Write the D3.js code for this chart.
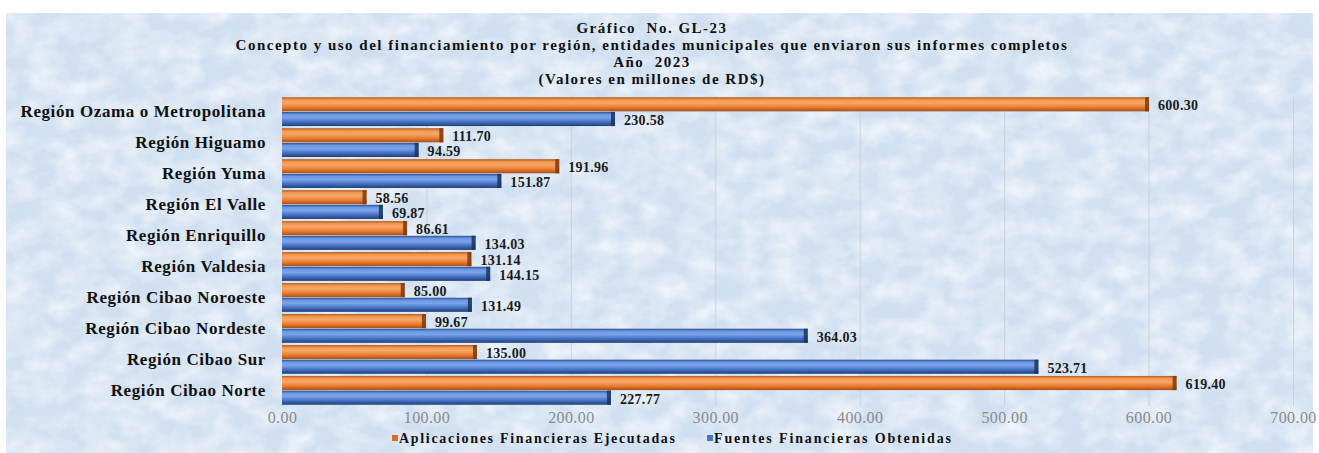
<!DOCTYPE html>
<html>
<head>
<meta charset="utf-8">
<script src="https://cdn.jsdelivr.net/npm/d3@7"></script>
<style>
  body { margin: 0; background: #ffffff; }
  svg { display: block; }
</style>
</head>
<body>
<div id="chart"></div>
<script>
var regions = [
  'Región Ozama o Metropolitana',
  'Región Higuamo',
  'Región Yuma',
  'Región El Valle',
  'Región Enriquillo',
  'Región Valdesia',
  'Región Cibao Noroeste',
  'Región Cibao Nordeste',
  'Región Cibao Sur',
  'Región Cibao Norte'
];
var aplicaciones = [600.30, 111.70, 191.96, 58.56, 86.61, 131.14, 85.00, 99.67, 135.00, 619.40];
var fuentes = [230.58, 94.59, 151.87, 69.87, 134.03, 144.15, 131.49, 364.03, 523.71, 227.77];
var series_names = ['Aplicaciones Financieras Ejecutadas', 'Fuentes Financieras Obtenidas'];
var x_ticks = [0, 100, 200, 300, 400, 500, 600, 700];
var title_lines = [
  'Gráfico  No. GL-23',
  'Concepto y uso del financiamiento por región, entidades municipales que enviaron sus informes completos',
  'Año  2023',
  '(Valores en millones de RD$)'
];

var chart_width = 1319;
var chart_height = 453;
var plot = { left: 282, right: 1293, top: 96, bottom: 406 };
var serif = '"Liberation Serif", "Times New Roman", serif';

var svg = d3.select('#chart')
      .append('svg')
      .attr('width', chart_width)
      .attr('height', chart_height);

var defs = svg.append('defs');

// paper texture for the background
var tex = defs.append('filter')
   .attr('id', 'paper')
   .attr('x', 0).attr('y', 0).attr('width', 1).attr('height', 1);
tex.append('feTurbulence')
   .attr('type', 'fractalNoise')
   .attr('baseFrequency', '0.035 0.05')
   .attr('numOctaves', 4)
   .attr('seed', 7);
tex.append('feColorMatrix')
   .attr('values', '0 0 0 0 1  0 0 0 0 1  0 0 0 0 1  0 0 0 -1.6 1.05');

// bar gradients (cylinder look)
function make_gradient(id, stops) {
  var g = defs.append('linearGradient')
    .attr('id', id)
    .attr('x1', 0).attr('y1', 0).attr('x2', 0).attr('y2', 1);
  stops.forEach(function(s) {
    g.append('stop').attr('offset', s[0]).attr('stop-color', s[1]);
  });
}
make_gradient('grad-orange', [[0, '#b5591b'], [0.18, '#f0974f'], [0.4, '#f7a867'], [0.7, '#ed7d31'], [1, '#a4511a']]);
make_gradient('grad-blue', [[0, '#2d4f8e'], [0.18, '#6b98e3'], [0.4, '#7aa4ea'], [0.7, '#4472c4'], [1, '#233f73']]);

var colors = ['url(#grad-orange)', 'url(#grad-blue)'];
var cap_colors = ['#7a3a0f', '#1c325c'];
var legend_colors = ['#d8702a', '#4a76c2'];

// background
svg.append('rect')
   .attr('x', 6).attr('y', 13)
   .attr('width', chart_width - 12).attr('height', chart_height - 13)
   .attr('fill', '#d1e0f1');
svg.append('rect')
   .attr('x', 6).attr('y', 13)
   .attr('width', chart_width - 12).attr('height', chart_height - 13)
   .attr('filter', 'url(#paper)')
   .attr('opacity', 0.75);

// title
svg.append('g')
   .selectAll('text')
   .data(title_lines)
   .enter()
   .append('text')
   .attr('x', 652)
   .attr('y', function(d, i) { return [33, 50, 67, 84][i]; })
   .attr('text-anchor', 'middle')
   .attr('font-family', serif)
   .attr('font-weight', 'bold')
   .attr('font-size', 15)
   .attr('letter-spacing', 1.5)
   .attr('fill', '#111')
   .style('white-space', 'pre')
   .text(function(d) { return d; });

// scales
var x_scale = d3.scaleLinear()
        .domain([0, d3.max(x_ticks)])
        .range([plot.left, plot.right]);

var y_scale = d3.scaleBand()
        .domain(regions)
        .range([plot.top, plot.bottom])
        .paddingInner(0.07)
        .paddingOuter(0.04);

var y_inner = d3.scaleBand()
        .domain([0, 1])
        .range([0, y_scale.bandwidth()])
        .paddingInner(0.04);

// gridlines
svg.append('g')
   .attr('class', 'grid')
   .attr('transform', 'translate(0,' + plot.bottom + ')')
   .call(d3.axisBottom(x_scale).tickValues(x_ticks).tickSize(-(plot.bottom - plot.top)).tickFormat(''))
   .call(function(g) { g.select('.domain').remove(); })
   .selectAll('line')
   .attr('stroke', '#c9d2dc')
   .attr('stroke-width', 1);

// x axis labels
svg.append('g')
   .attr('class', 'x-axis')
   .attr('transform', 'translate(0,' + plot.bottom + ')')
   .call(d3.axisBottom(x_scale).tickValues(x_ticks).tickSize(0).tickPadding(6).tickFormat(d3.format('.2f')))
   .call(function(g) { g.select('.domain').remove(); })
   .selectAll('text')
   .attr('font-family', serif)
   .attr('font-size', 16)
   .attr('letter-spacing', 0.4)
   .attr('fill', '#8a8a8a');

// y axis labels
svg.append('g')
   .attr('class', 'y-axis')
   .attr('transform', 'translate(' + plot.left + ',0)')
   .call(d3.axisLeft(y_scale).tickSize(0).tickPadding(16))
   .call(function(g) { g.select('.domain').remove(); })
   .selectAll('text')
   .attr('font-family', serif)
   .attr('font-weight', 'bold')
   .attr('font-size', 17)
   .attr('letter-spacing', 0.6)
   .attr('fill', '#111');

// bars
var rows = regions.map(function(r, i) {
  return { region: r, values: [aplicaciones[i], fuentes[i]] };
});

var groups = svg.append('g')
   .attr('id', 'plot-area')
   .selectAll('g')
   .data(rows)
   .enter()
   .append('g')
   .attr('transform', function(d) { return 'translate(0,' + y_scale(d.region) + ')'; });

var bars = groups.selectAll('g')
   .data(function(d) { return d.values.map(function(v, k) { return { k: k, v: v }; }); })
   .enter()
   .append('g');

bars.append('rect')
   .attr('x', x_scale(0))
   .attr('y', function(d) { return y_inner(d.k); })
   .attr('width', function(d) { return x_scale(d.v) - x_scale(0); })
   .attr('height', y_inner.bandwidth())
   .attr('fill', function(d) { return colors[d.k]; });

// dark end cap
bars.append('rect')
   .attr('x', function(d) { return x_scale(d.v) - 4; })
   .attr('y', function(d) { return y_inner(d.k); })
   .attr('width', 4)
   .attr('height', y_inner.bandwidth())
   .attr('fill', function(d) { return cap_colors[d.k]; })
   .attr('opacity', 0.85);

bars.append('text')
   .attr('x', function(d) { return x_scale(d.v) + 9; })
   .attr('y', function(d) { return y_inner(d.k) + y_inner.bandwidth() / 2 + 1; })
   .attr('dy', '0.35em')
   .attr('font-family', serif)
   .attr('font-weight', 'bold')
   .attr('font-size', 14)
   .attr('letter-spacing', 0.3)
   .attr('fill', '#1a1a1a')
   .text(function(d) { return d3.format('.2f')(d.v); });

// legend
var legend_x = [392, 707];
var legend_w = [276, 237];
var legend = svg.append('g')
   .selectAll('g')
   .data(series_names)
   .enter()
   .append('g')
   .attr('transform', function(d, i) { return 'translate(' + legend_x[i] + ',438)'; });

legend.append('rect')
   .attr('x', 0).attr('y', -3)
   .attr('width', 6).attr('height', 6)
   .attr('fill', function(d, i) { return legend_colors[i]; });

legend.append('text')
   .attr('x', 7)
   .attr('y', 0)
   .attr('dy', '0.35em')
   .attr('font-family', serif)
   .attr('font-weight', 'bold')
   .attr('font-size', 14)
   .attr('fill', '#111')
   .attr('textLength', function(d, i) { return legend_w[i]; })
   .attr('lengthAdjust', 'spacing')
   .text(function(d) { return d; });
</script>
</body>
</html>
